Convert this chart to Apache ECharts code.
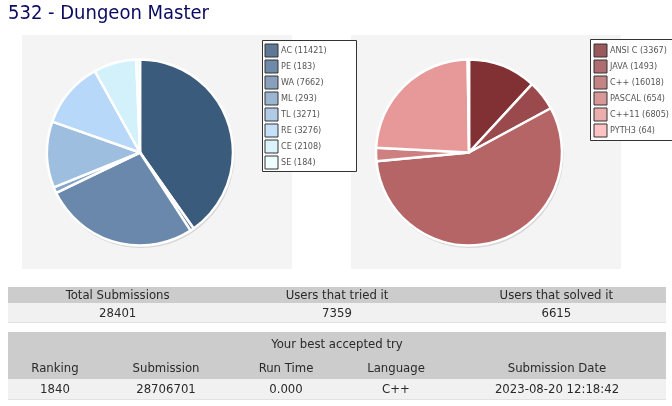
<!DOCTYPE html>
<html>
<head>
<meta charset="utf-8">
<script src="https://cdn.jsdelivr.net/npm/echarts@6/dist/echarts.min.js"></script>
<style>
html,body{margin:0;padding:0;background:#fff;}
#main{width:672px;height:406px;}
</style>
</head>
<body>
<div id="main"></div>
<script>
// ---- data ----
const pageTitle = '532 - Dungeon Master';
const verdictNames = ['AC', 'PE', 'WA', 'ML', 'TL', 'RE', 'CE', 'SE'];
const verdictCounts = [11421, 183, 7662, 293, 3271, 3276, 2108, 184];
const languageNames = ['ANSI C', 'JAVA', 'C++', 'PASCAL', 'C++11', 'PYTH3'];
const languageCounts = [3367, 1493, 16018, 654, 6805, 64];
const statHeaders = ['Total Submissions', 'Users that tried it', 'Users that solved it'];
const statValues = ['28401', '7359', '6615'];
const bestTryTitle = 'Your best accepted try';
const bestTryHeaders = ['Ranking', 'Submission', 'Run Time', 'Language', 'Submission Date'];
const bestTryValues = ['1840', '28706701', '0.000', 'C++', '2023-08-20 12:18:42'];

// ---- styles ----
const verdictColors = ['#3b5b7c', '#4a6d92', '#6a88ab', '#83a4c7', '#9ebee0', '#b8d8f9', '#d2f1fb', '#eafdfd'];
const verdictLegendColors = ['#5e7895', '#6e8aa8', '#88a0bc', '#9cb6d2', '#b1cbe6', '#c6e0fa', '#dbf4fc', '#eefdfd'];
const languageColors = ['#813133', '#9a4a4c', '#b56565', '#ce7f7f', '#e79999', '#ffb4b4'];
const languageLegendColors = ['#9a5a5c', '#ae6e70', '#c48484', '#d89898', '#ecadad', '#ffc3c3'];
const FONT = "'DejaVu Sans Condensed', 'DejaVu Sans', sans-serif";
const TEXT = '#2a2a2a';

const chart = echarts.init(document.getElementById('main'), null, {renderer: 'canvas'});

function pieData(names, counts, colors) {
  return names.map((n, i) => ({name: n, value: counts[i], itemStyle: {color: colors[i]}}));
}
function legendData(names, colors) {
  return names.map((n, i) => ({name: n, itemStyle: {color: colors[i]}}));
}
function sum(a) { return a.reduce((s, v) => s + v, 0); }

const lookup = {};
verdictNames.forEach((n, i) => lookup['v:' + n] = verdictCounts[i]);
languageNames.forEach((n, i) => lookup['l:' + n] = languageCounts[i]);

// ---- graphic: panels, legend boxes, title, tables ----
const g = [];
g.push({type: 'rect', z: -10, shape: {x: 22, y: 35, width: 270, height: 234}, style: {fill: '#f4f4f4'}});
g.push({type: 'rect', z: -10, shape: {x: 351, y: 35, width: 270, height: 234}, style: {fill: '#f4f4f4'}});
g.push({type: 'rect', z: -5, shape: {x: 262.5, y: 40.5, width: 94, height: 131}, style: {fill: '#fff', stroke: '#333', lineWidth: 1}});
g.push({type: 'rect', z: -5, shape: {x: 590.5, y: 39.5, width: 100, height: 101}, style: {fill: '#fff', stroke: '#333', lineWidth: 1}});
g.push({type: 'text', x: 8, y: 14, style: {text: pageTitle, fill: '#0a0a60', font: '20px ' + FONT, textVerticalAlign: 'middle'}});

// table 1
const tX = 8, tW = 658;
g.push({type: 'rect', shape: {x: tX, y: 287, width: tW, height: 16}, style: {fill: '#cccccc'}});
g.push({type: 'rect', shape: {x: tX, y: 303, width: tW, height: 20}, style: {fill: '#f1f1f1'}});
g.push({type: 'rect', shape: {x: tX, y: 322, width: tW, height: 1}, style: {fill: '#e2e2e2'}});
statHeaders.forEach((h, i) => {
  const cx = tX + (i + 0.5) * tW / statHeaders.length;
  g.push({type: 'text', x: cx, y: 295.5, style: {text: h, fill: TEXT, font: '13px ' + FONT, textAlign: 'center', textVerticalAlign: 'middle'}});
  g.push({type: 'text', x: cx, y: 313.5, style: {text: statValues[i], fill: TEXT, font: '13px ' + FONT, textAlign: 'center', textVerticalAlign: 'middle'}});
});

// table 2
const bestCols = [55, 166, 286, 396, 557];
g.push({type: 'rect', shape: {x: tX, y: 332, width: tW, height: 47}, style: {fill: '#cccccc'}});
g.push({type: 'rect', shape: {x: tX, y: 379, width: tW, height: 21}, style: {fill: '#f1f1f1'}});
g.push({type: 'rect', shape: {x: tX, y: 399, width: tW, height: 1}, style: {fill: '#e2e2e2'}});
g.push({type: 'text', x: tX + tW / 2, y: 344.5, style: {text: bestTryTitle, fill: TEXT, font: '13px ' + FONT, textAlign: 'center', textVerticalAlign: 'middle'}});
bestTryHeaders.forEach((h, i) => {
  g.push({type: 'text', x: bestCols[i], y: 369, style: {text: h, fill: TEXT, font: '13px ' + FONT, textAlign: 'center', textVerticalAlign: 'middle'}});
  g.push({type: 'text', x: bestCols[i], y: 389.5, style: {text: bestTryValues[i], fill: TEXT, font: '13px ' + FONT, textAlign: 'center', textVerticalAlign: 'middle'}});
});

const legendCommon = {
  orient: 'vertical', padding: 0, itemWidth: 13, itemHeight: 13, itemGap: 2,
  icon: 'rect', selectedMode: false,
  itemStyle: {borderColor: '#333', borderWidth: 1},
  textStyle: {fontSize: 9, lineHeight: 12, color: '#555', fontFamily: FONT, padding: [0, 0, 0, -2]}
};

const pieCommon = {
  type: 'pie', radius: 93, startAngle: 90, clockwise: true, label: {show: false},
  labelLine: {show: false}, silent: true, animation: false,
  itemStyle: {borderColor: '#fff', borderWidth: 2.5}, z: 3
};
const shadowCommon = {
  type: 'pie', radius: 93.5, label: {show: false}, labelLine: {show: false},
  silent: true, animation: false, z: 2, legendHoverLink: false,
  itemStyle: {color: '#d6d6d6'}
};

chart.setOption({
  animation: false,
  graphic: g,
  legend: [
    Object.assign({}, legendCommon, {
      left: 264.5, top: 43.5, data: legendData(verdictNames, verdictLegendColors),
      formatter: n => n + ' (' + lookup['v:' + n] + ')'
    }),
    Object.assign({}, legendCommon, {
      left: 593.5, top: 43.5, data: legendData(languageNames, languageLegendColors),
      formatter: n => n + ' (' + lookup['l:' + n] + ')'
    })
  ],
  series: [
    Object.assign({}, shadowCommon, {center: [141, 154.5], data: [{name: '_shadowV', value: sum(verdictCounts)}]}),
    Object.assign({}, shadowCommon, {center: [470, 154.5], data: [{name: '_shadowL', value: sum(languageCounts)}]}),
    Object.assign({}, pieCommon, {name: 'Verdicts', center: [140, 152.5], data: pieData(verdictNames, verdictCounts, verdictColors)}),
    Object.assign({}, pieCommon, {name: 'Languages', center: [469, 152.5], data: pieData(languageNames, languageCounts, languageColors)})
  ]
});
</script>
</body>
</html>
